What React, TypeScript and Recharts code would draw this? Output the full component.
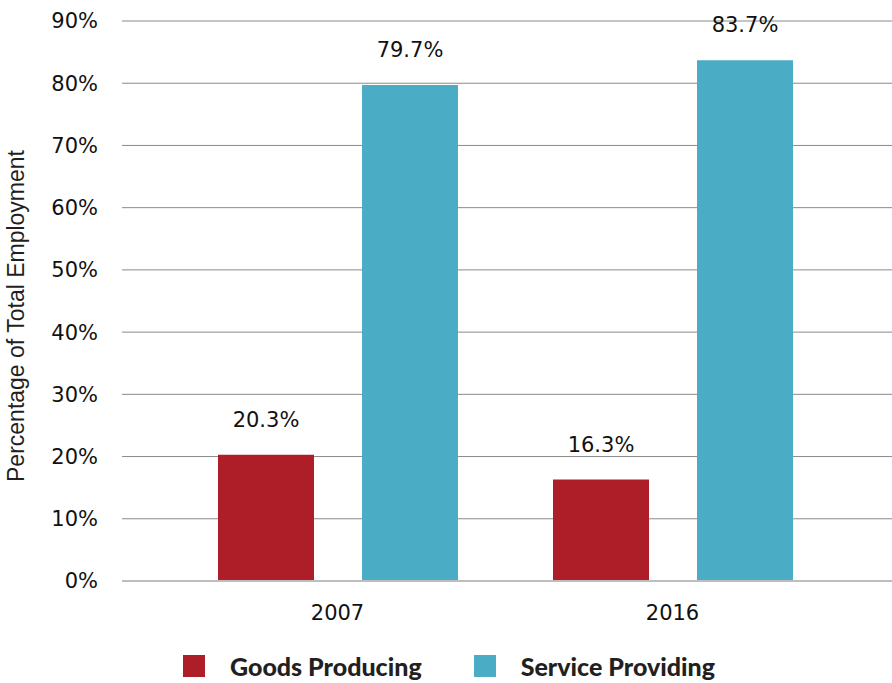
import React from 'react';
import {
  BarChart,
  Bar,
  XAxis,
  YAxis,
  CartesianGrid,
  Legend,
  LabelList,
} from 'recharts';

const years = ['2007', '2016'];
const goodsProducing = [20.3, 16.3];
const serviceProviding = [79.7, 83.7];
const yTicks = [0, 10, 20, 30, 40, 50, 60, 70, 80, 90];

const RED = '#AE1E28';
const BLUE = '#4BACC6';
const TICK_FONT = '"DejaVu Sans", Verdana, sans-serif';

const data = years.map((year, i) => ({
  year,
  goods: goodsProducing[i],
  service: serviceProviding[i],
}));

function LegendContent() {
  const items = [
    { name: 'Goods Producing', color: RED },
    { name: 'Service Providing', color: BLUE },
  ];
  return (
    <div
      style={{
        display: 'flex',
        height: 42,
        alignItems: 'center',
        paddingLeft: 183,
        transform: 'translateY(4px)',
      }}
    >
      {items.map((it) => (
        <div key={it.name} style={{ display: 'flex', alignItems: 'center', marginRight: 52 }}>
          <span style={{ width: 22, height: 22, background: it.color, display: 'inline-block', marginRight: 25 }} />
          <span
            style={{
              fontFamily: 'Lato, "Open Sans", sans-serif',
              fontWeight: 900,
              fontSize: 25,
              color: '#231f20',
            }}
          >
            {it.name}
          </span>
        </div>
      ))}
    </div>
  );
}

export default function App() {
  return (
    <div style={{ position: 'absolute', left: 0, top: 0, width: 892, height: 683, background: '#fff' }}>
      <BarChart
        width={892}
        height={683}
        data={data}
        margin={{ top: 21, right: 0, left: 0, bottom: 0 }}
        barGap={48}
        barSize={96}
      >
        <CartesianGrid vertical={false} stroke="#8a8a8a" />
        <XAxis
          dataKey="year"
          padding={{ left: 48, right: 52 }}
          axisLine={{ stroke: '#bdbdbd', strokeWidth: 2 }}
          tickLine={false}
          tickMargin={18}
          height={60}
          tick={{ fill: '#111', fontSize: 21, fontFamily: TICK_FONT }}
        />
        <YAxis
          width={122}
          domain={[0, 90]}
          ticks={yTicks}
          interval={0}
          axisLine={false}
          tickLine={false}
          tickMargin={18}
          tickFormatter={(v) => `${v}%`}
          tick={{ fill: '#111', fontSize: 21, fontFamily: TICK_FONT }}
          label={{
            content: () => (
              <text
                x={16}
                y={316}
                transform="rotate(-90 16 316)"
                textAnchor="middle"
                dominantBaseline="central"
                fill="#231f20"
                fontFamily='"Liberation Sans", Arial, sans-serif'
                fontSize={23}
              >
                Percentage of Total Employment
              </text>
            ),
          }}
        />
        <Legend verticalAlign="bottom" content={<LegendContent />} />
        <Bar dataKey="goods" name="Goods Producing" fill={RED} isAnimationActive={false}>
          <LabelList
            dataKey="goods"
            position="top"
            offset={28}
            formatter={(v: number) => `${v.toFixed(1)}%`}
            style={{ fill: '#111', fontSize: 21, fontFamily: TICK_FONT }}
          />
        </Bar>
        <Bar dataKey="service" name="Service Providing" fill={BLUE} isAnimationActive={false}>
          <LabelList
            dataKey="service"
            position="top"
            offset={28}
            formatter={(v: number) => `${v.toFixed(1)}%`}
            style={{ fill: '#111', fontSize: 21, fontFamily: TICK_FONT }}
          />
        </Bar>
      </BarChart>
    </div>
  );
}
